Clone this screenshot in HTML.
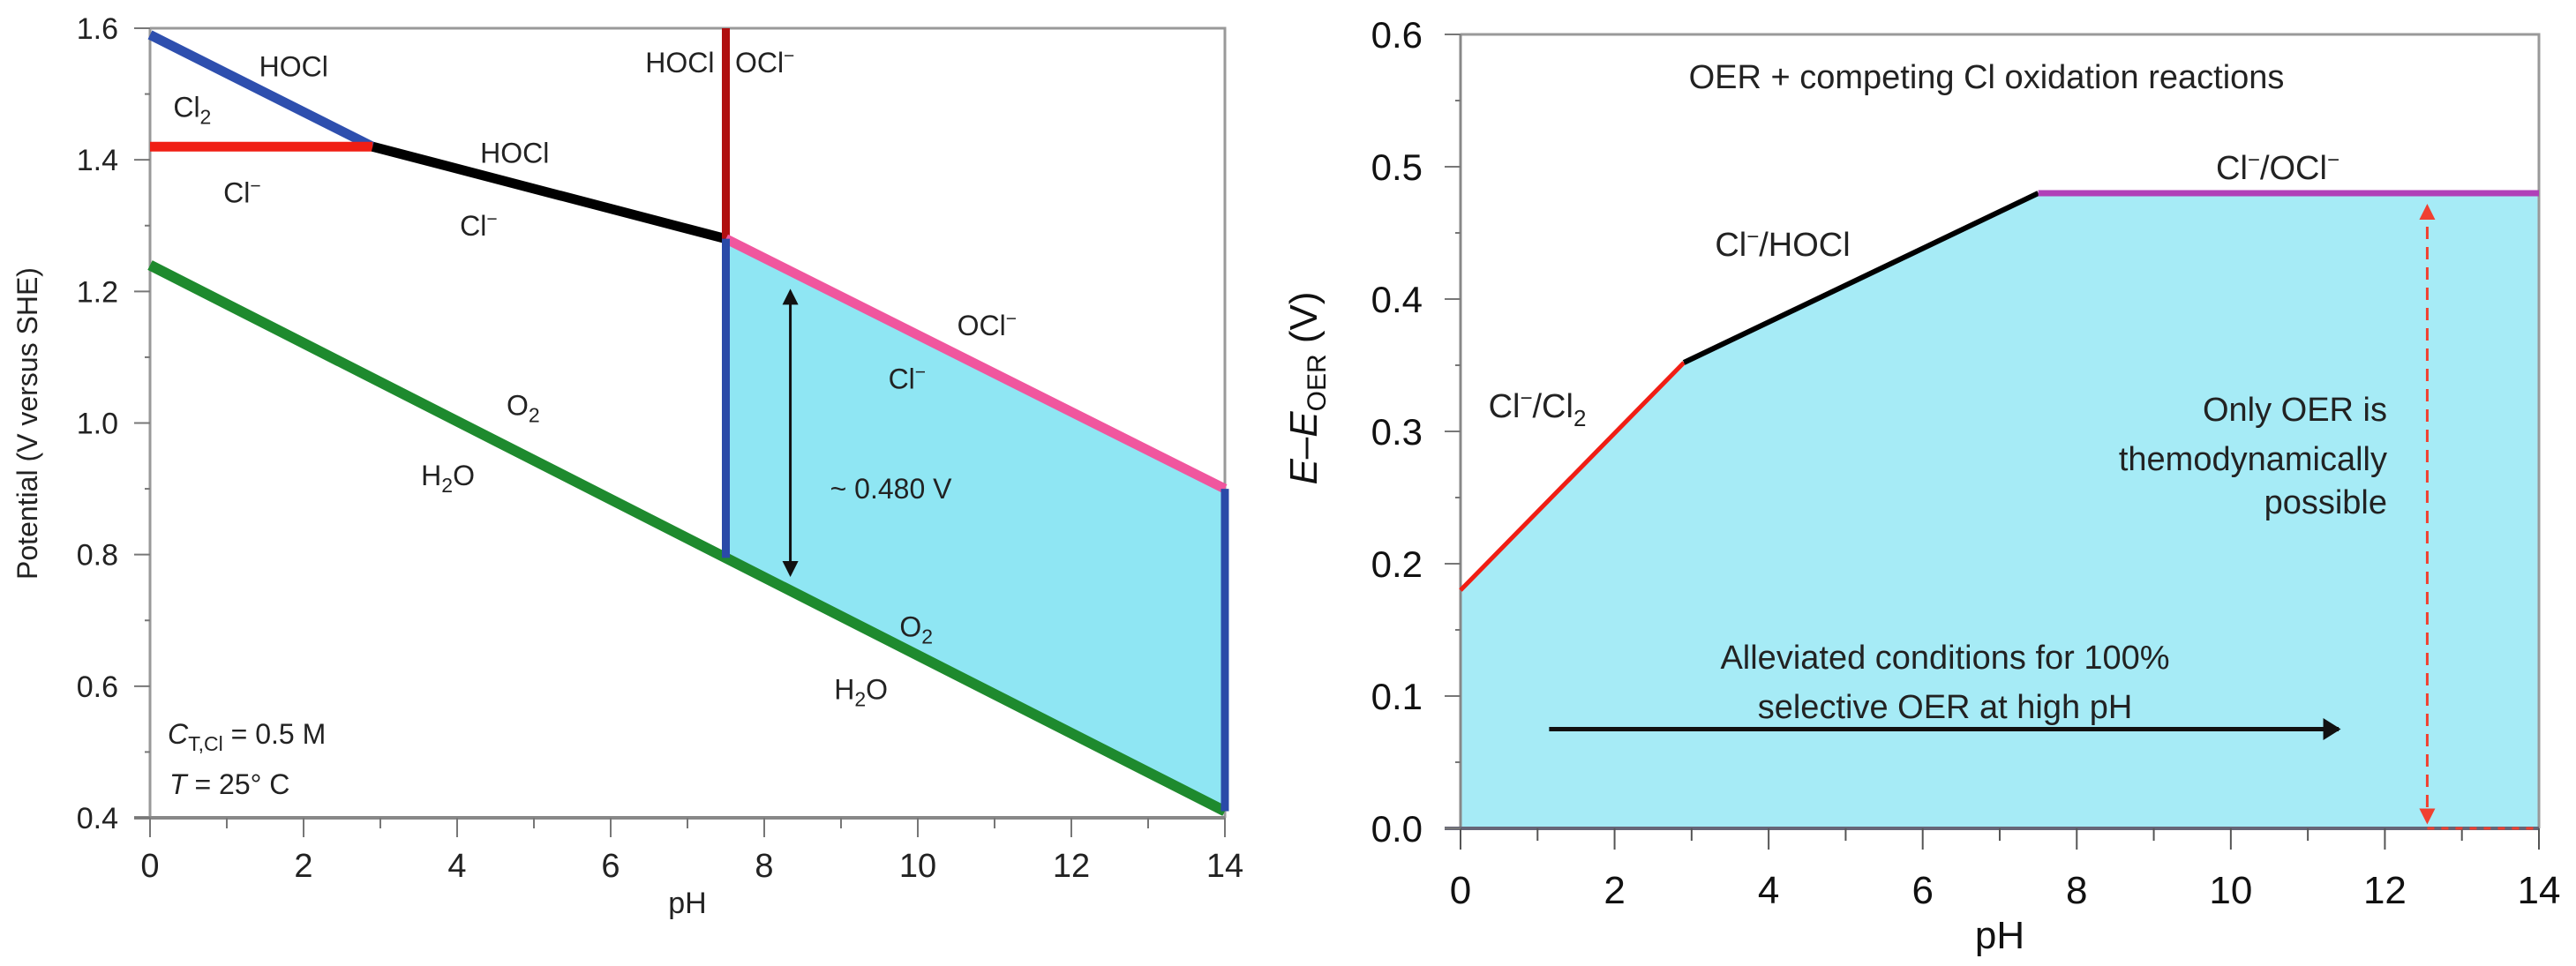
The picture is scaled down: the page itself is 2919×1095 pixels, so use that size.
<!DOCTYPE html>
<html><head><meta charset="utf-8"><style>
html,body{margin:0;padding:0;background:#fff;}
svg{display:block;font-family:"Liberation Sans",Arial,sans-serif;}
</style></head><body>
<svg id="fig" width="2919" height="1095" viewBox="0 0 2919 1095" xmlns="http://www.w3.org/2000/svg">
<g id="left"></g>
<g id="right"></g>
</svg>
<script>
// ---------- Left chart data ----------
const lxTicks = [0,2,4,6,8,10,12,14];
const lyTicks = [0.4,0.6,0.8,1.0,1.2,1.4,1.6];
const lBlueCl2 = [[0,1.59],[2.9,1.42]];
const lRedCl2 = [[0,1.42],[2.9,1.42]];
const lBlackHOCl = [[2.9,1.42],[7.5,1.28]];
const lDarkRedPKa = [[7.5,1.28],[7.5,1.6]];
const lPinkOCl = [[7.5,1.28],[14,0.9]];
const lGreenO2 = [[0,1.24],[7.5,0.795],[14,0.41]];
const lBlueV1 = [[7.5,1.28],[7.5,0.795]];
const lBlueV2 = [[14,0.9],[14,0.41]];
const lArrow = [8.34,1.20,0.77];
// ---------- Right chart data ----------
const rxTicks = [0,2,4,6,8,10,12,14];
const ryTicks = [0.0,0.1,0.2,0.3,0.4,0.5,0.6];
const rClCl2 = [[0,0.18],[2.9,0.352]];
const rClHOCl = [[2.9,0.352],[7.5,0.48]];
const rClOCl = [[7.5,0.48],[14,0.48]];
const rDashPH = 12.55;
const rArrow = [1.15,11.4,0.075];

const NS="http://www.w3.org/2000/svg";
function mk(parent,tag,attrs,text){const e=document.createElementNS(NS,tag);for(const k in attrs)e.setAttribute(k,attrs[k]);if(text!==undefined)e.textContent=text;parent.appendChild(e);return e;}

// ----- Left axes -----
const L={x0:170,x1:1388,y0:927,y1:32,vmin:0.4,vmax:1.6};
const lx=p=>L.x0+(L.x1-L.x0)*p/14;
const ly=v=>L.y0-(L.y0-L.y1)*(v-L.vmin)/(L.vmax-L.vmin);
const lg=document.getElementById('left');
const pts=(arr,fx,fy)=>arr.map(d=>fx(d[0])+','+fy(d[1])).join(' ');

let fillPts=[[7.5,1.28],[14,0.9],[14,0.41],[7.5,0.795]];
let f=mk(lg,'polygon',{points:pts(fillPts,lx,ly),fill:'#8fe6f3'});



let fr=mk(lg,'path',{d:`M${L.x0},${L.y1} H${L.x1} V${L.y0}`,stroke:'#999',fill:'none','stroke-width':3});


let ax=mk(lg,'line',{x1:L.x0,y1:L.y1,x2:L.x0,y2:L.y0,stroke:'#999','stroke-width':3});


let axx=mk(lg,'line',{x1:L.x0-18,y1:L.y0,x2:L.x1,y2:L.y0,stroke:'#888','stroke-width':4});


for(let p=0;p<=14;p++){mk(lg,'line',{x1:lx(p),y1:L.y0,x2:lx(p),y2:L.y0+(p%2?12:22),stroke:'#777','stroke-width':2});}
for(let i=0;i<=12;i++){const v=0.4+i*0.1;mk(lg,'line',{x1:L.x0-(i%2?6:18),y1:ly(v),x2:L.x0,y2:ly(v),stroke:'#777','stroke-width':2});}
lxTicks.forEach(t=>{const e=mk(lg,'text',{x:lx(t),y:994,'font-size':38,'text-anchor':'middle',fill:'#222'},String(t));

});
lyTicks.forEach(t=>{const e=mk(lg,'text',{x:134,y:ly(t)+12,'font-size':34,'text-anchor':'end',fill:'#222'},t.toFixed(1));

});
let xt=mk(lg,'text',{x:(L.x0+L.x1)/2,y:1035,'font-size':34,'text-anchor':'middle',fill:'#222'},'pH');


let yt=mk(lg,'text',{x:0,y:0,'font-size':32,'text-anchor':'middle',fill:'#222',transform:'translate(42,480) rotate(-90)'},'Potential (V versus SHE)');



function line(g,arr,fx,fy,color,w,name){const e=mk(g,'polyline',{points:pts(arr,fx,fy),stroke:color,'stroke-width':w,fill:'none','stroke-linecap':'butt'});

return e;}
line(lg,lGreenO2,lx,ly,'#1e8a2e',12,'o2-h2o-line');
line(lg,lBlueCl2,lx,ly,'#2e4fae',11,'cl2-hocl-line');
line(lg,lRedCl2,lx,ly,'#f01e14',11,'cl2-cl-line');
line(lg,lBlackHOCl,lx,ly,'#000',11,'hocl-cl-line');
line(lg,lDarkRedPKa,lx,ly,'#b01010',9,'hocl-ocl-boundary');
line(lg,lPinkOCl,lx,ly,'#f0569e',11,'ocl-cl-line');
line(lg,lBlueV1,lx,ly,'#2a4aa8',9,'region-left-edge');
line(lg,lBlueV2,lx,ly,'#2a4aa8',9,'region-right-edge');

mk(lg,'defs',{}).innerHTML='<marker id="ah" markerWidth="6" markerHeight="6" refX="5" refY="3" orient="auto-start-reverse" markerUnits="strokeWidth"><path d="M0,0 L6,3 L0,6 z" fill="#111"/></marker><marker id="ahr" markerWidth="6" markerHeight="6" refX="5" refY="3" orient="auto-start-reverse" markerUnits="strokeWidth"><path d="M0,0 L6,3 L0,6 z" fill="#f04030"/></marker><marker id="ahb" markerWidth="4" markerHeight="5" refX="3.5" refY="2.5" orient="auto" markerUnits="strokeWidth"><path d="M0,0 L4,2.5 L0,5 z" fill="#111"/></marker>';
let arr=mk(lg,'line',{x1:lx(lArrow[0]),y1:ly(lArrow[1]),x2:lx(lArrow[0]),y2:ly(lArrow[2]),stroke:'#111','stroke-width':3,'marker-start':'url(#ah)','marker-end':'url(#ah)'});



function lbl(g,x,y,html,size,name,anchor){const e=mk(g,'text',{x:x,y:y,'font-size':size,'text-anchor':anchor||'middle',fill:'#222'});e.innerHTML=html;

return e;}
const sup='<tspan dy="-12" font-size="21">−</tspan>';
lbl(lg,lx(1.87),ly(1.542)+11,'HOCl',32,'label-hocl-1');
lbl(lg,lx(0.55),ly(1.48)+11,'Cl<tspan dy="8" font-size="23">2</tspan>',32,'label-cl2');
lbl(lg,lx(1.2),ly(1.35)+11,'Cl'+sup,32,'label-cl-1');
lbl(lg,lx(4.75),ly(1.41)+11,'HOCl',32,'label-hocl-2');
lbl(lg,lx(4.28),ly(1.30)+11,'Cl'+sup,32,'label-cl-2');
lbl(lg,lx(7.35),ly(1.548)+11,'HOCl',32,'label-hocl-3','end');
lbl(lg,lx(7.62),ly(1.548)+11,'OCl'+sup,32,'label-ocl-1','start');
lbl(lg,lx(10.9),ly(1.148)+11,'OCl'+sup,32,'label-ocl-2');
lbl(lg,lx(9.86),ly(1.067)+11,'Cl'+sup,32,'label-cl-3');
lbl(lg,lx(9.65),ly(0.90)+11,'~ 0.480 V',32,'label-gap');
lbl(lg,lx(4.86),ly(1.027)+11,'O<tspan dy="8" font-size="23">2</tspan>',32,'label-o2-1');
lbl(lg,lx(3.88),ly(0.92)+11,'H<tspan dy="8" font-size="23">2</tspan><tspan dy="-8">O</tspan>',32,'label-h2o-1');
lbl(lg,lx(9.98),ly(0.69)+11,'O<tspan dy="8" font-size="23">2</tspan>',32,'label-o2-2');
lbl(lg,lx(9.26),ly(0.595)+11,'H<tspan dy="8" font-size="23">2</tspan><tspan dy="-8">O</tspan>',32,'label-h2o-2');
lbl(lg,190,843,'<tspan font-style="italic">C</tspan><tspan dy="8" font-size="23">T,Cl</tspan><tspan dy="-8"> = 0.5 M</tspan>',32,'concentration-note','start');
lbl(lg,192,900,'<tspan font-style="italic">T</tspan> = 25° C',32,'temperature-note','start');

// ----- Right axes -----
const R={x0:1655,x1:2877,y0:939,y1:39,vmin:0,vmax:0.6};
const rx=p=>R.x0+(R.x1-R.x0)*p/14;
const ry=v=>R.y0-(R.y0-R.y1)*(v-R.vmin)/(R.vmax-R.vmin);
const rg=document.getElementById('right');
const rfill=[[0,0]].concat(rClCl2,rClHOCl.slice(1),rClOCl.slice(1),[[14,0]]);
let rf=mk(rg,'polygon',{points:pts(rfill,rx,ry),fill:'#a6ebf6'});


let rfr=mk(rg,'path',{d:`M${R.x0},${R.y1} H${R.x1} V${R.y0}`,stroke:'#999',fill:'none','stroke-width':3});


let ray=mk(rg,'line',{x1:R.x0,y1:R.y1,x2:R.x0,y2:R.y0,stroke:'#888','stroke-width':3});


let rax=mk(rg,'line',{x1:R.x0-18,y1:R.y0,x2:R.x1,y2:R.y0,stroke:'#667','stroke-width':4});


for(let p=0;p<=14;p++){mk(rg,'line',{x1:rx(p),y1:R.y0,x2:rx(p),y2:R.y0+(p%2?14:24),stroke:'#555','stroke-width':2});}
for(let i=0;i<=12;i++){const v=i*0.05;mk(rg,'line',{x1:R.x0-(i%2?6:18),y1:ry(v),x2:R.x0,y2:ry(v),stroke:'#777','stroke-width':2});}
rxTicks.forEach(t=>{const e=mk(rg,'text',{x:rx(t),y:1024,'font-size':44,'text-anchor':'middle',fill:'#111'},String(t));

});
ryTicks.forEach(t=>{const e=mk(rg,'text',{x:1612,y:ry(t)+15,'font-size':42,'text-anchor':'end',fill:'#111'},t.toFixed(1));

});
let rxt=mk(rg,'text',{x:(R.x0+R.x1)/2,y:1075,'font-size':44,'text-anchor':'middle',fill:'#111'},'pH');


let ryt=mk(rg,'text',{x:0,y:0,'font-size':44,'text-anchor':'middle',fill:'#111',transform:'translate(1492,440) rotate(-90)'});
ryt.innerHTML='<tspan font-style="italic">E</tspan>–<tspan font-style="italic">E</tspan><tspan dy="10" font-size="30">OER</tspan><tspan dy="-10"> (V)</tspan>';



line(rg,rClCl2,rx,ry,'#f01e14',5,'cl-cl2-line');
line(rg,rClHOCl,rx,ry,'#000',6,'cl-hocl-line');
line(rg,rClOCl,rx,ry,'#b040b8',7,'cl-ocl-line');
let d1=mk(rg,'line',{x1:rx(rDashPH),y1:ry(0.47),x2:rx(rDashPH),y2:ry(0.005),stroke:'#f04030','stroke-width':3,'stroke-dasharray':'14,9','marker-end':'url(#ahr)','marker-start':'url(#ahr)'});


let d2=mk(rg,'line',{x1:rx(rDashPH),y1:R.y0,x2:R.x1,y2:R.y0,stroke:'#f04030','stroke-width':3,'stroke-dasharray':'8,8'});


let ha=mk(rg,'line',{x1:rx(rArrow[0]),y1:ry(rArrow[2]),x2:rx(rArrow[1]),y2:ry(rArrow[2]),stroke:'#111','stroke-width':5,'marker-end':'url(#ahb)'});



const rs='<tspan dy="-14" font-size="24">−</tspan><tspan dy="14">';
lbl(rg,2251,100,'OER + competing Cl oxidation reactions',38,'title-annotation');
lbl(rg,2581,203,'Cl'+rs+'/OCl</tspan>'+'<tspan dy="-14" font-size="24">−</tspan>',38,'label-cl-ocl');
lbl(rg,2020,290,'Cl'+rs+'/HOCl</tspan>',38,'label-cl-hocl');
lbl(rg,1742,473,'Cl'+rs+'/Cl</tspan><tspan dy="10" font-size="26">2</tspan>',38,'label-cl-cl2');
lbl(rg,2705,477,'Only OER is',38,'note-line-1','end');
lbl(rg,2705,533,'themodynamically',38,'note-line-2','end');
lbl(rg,2705,582,'possible',38,'note-line-3','end');
lbl(rg,2204,758,'Alleviated conditions for 100%',38,'alleviated-line-1');
lbl(rg,2204,814,'selective OER at high pH',38,'alleviated-line-2');
</script>
</body></html>
